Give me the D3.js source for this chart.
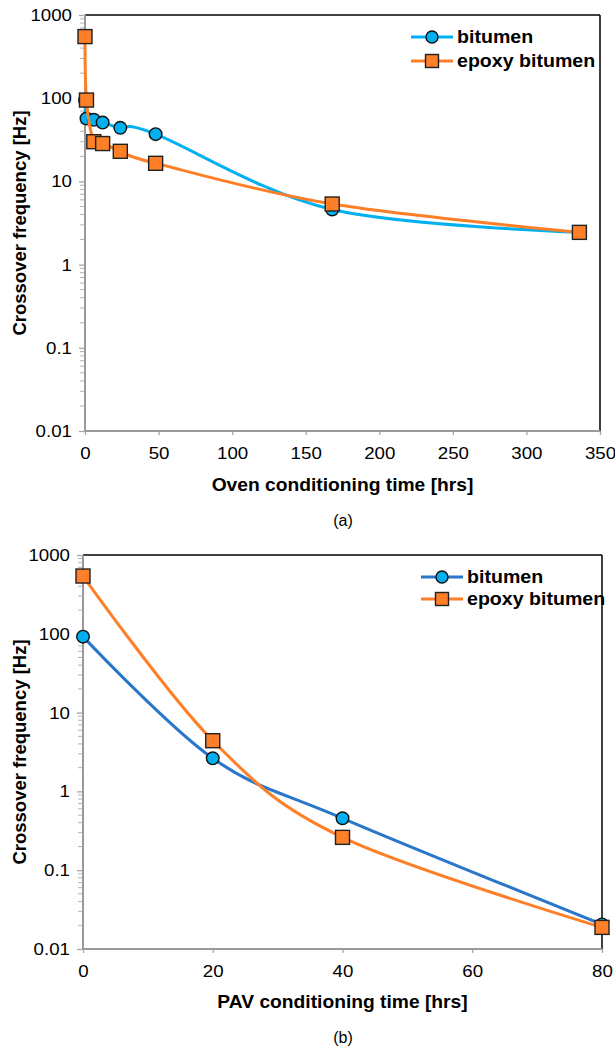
<!DOCTYPE html>
<html><head><meta charset="utf-8">
<script src="https://cdn.jsdelivr.net/npm/d3@7"></script>
<style>
body{margin:0;background:#fff;}
svg{display:block;}
text{font-family:"Liberation Sans",Arial,sans-serif;}
</style></head>
<body><svg id="c" width="615" height="1049"></svg>
<script>
// ---- data ----
const seriesNames = ["bitumen", "epoxy bitumen"];
const ovenTimes_bitumen = [0, 1, 6, 12, 24, 48, 168, 336];
const ovenFreq_bitumen = [95, 57, 55, 51, 44, 37, 4.6, 2.45];
const ovenTimes_epoxy = [0, 1, 6, 12, 24, 48, 168, 336];
const ovenFreq_epoxy = [550, 95, 30, 28.5, 23, 16.5, 5.35, 2.44];
const pavTimes = [0, 20, 40, 80];
const pavFreq_bitumen = [92, 2.63, 0.456, 0.0205];
const pavFreq_epoxy = [541, 4.4, 0.261, 0.0188];
const yTicks = [0.01, 0.1, 1, 10, 100, 1000];
const yTickLabels = ["0.01", "0.1", "1", "10", "100", "1000"];
const ovenXTicks = [0, 50, 100, 150, 200, 250, 300, 350];
const pavXTicks = [0, 20, 40, 60, 80];

const svg = d3.select("#c");
const ORANGE = "#fd7f28", ORANGE_FILL = "#fd7f28";
const LIGHTBLUE = "#00b0f0";
const SX = 1.1; // horizontal stretch of the reference's glyphs

function panel(cfg){
  const g = svg.append("g");
  const x = d3.scaleLinear().domain(cfg.xDomain).range([cfg.left, cfg.right]);
  const y = d3.scaleLog().domain([0.01, 1000]).range([cfg.bottom, cfg.top]);
  // minor ticks on y
  const minors = [];
  for (let e = -2; e < 3; e++) for (let m = 2; m <= 9; m++) minors.push(m * Math.pow(10, e));
  g.selectAll(".minor").data(minors).join("line")
    .attr("x1", cfg.left - 5).attr("x2", cfg.left)
    .attr("y1", d => y(d)).attr("y2", d => y(d))
    .attr("stroke", "#b4b4b4").attr("stroke-width", 1);
  // y axis (major ticks + labels)
  const yAxis = d3.axisLeft(y).tickValues(yTicks).tickFormat((d,i) => yTickLabels[i]).tickSize(6).tickPadding(7);
  const ya = g.append("g").attr("transform", `translate(${cfg.left},0)`).call(yAxis);
  ya.select(".domain").remove();
  ya.selectAll("line").attr("stroke", "#a6a6a6").attr("stroke-width", 1.3);
  ya.selectAll("text").attr("font-size", 17).attr("fill", "#000").attr("font-family", '"Liberation Sans",Arial,sans-serif')
    .attr("x", -13 / SX).attr("transform", `scale(${SX},1)`);
  // x axis
  const xAxis = d3.axisBottom(x).tickValues(cfg.xTicks).tickSize(4).tickPadding(12);
  const xa = g.append("g").attr("transform", `translate(0,${cfg.bottom})`).call(xAxis);
  xa.select(".domain").remove();
  xa.selectAll("line").attr("stroke", "#a6a6a6").attr("stroke-width", 1.3);
  xa.selectAll("text").attr("font-size", 17).attr("fill", "#000").attr("font-family", '"Liberation Sans",Arial,sans-serif')
    .attr("transform", `scale(${SX},1)`);
  // frame: top & right black, left & bottom gray
  g.append("line").attr("x1", cfg.left).attr("x2", cfg.right).attr("y1", cfg.top).attr("y2", cfg.top).attr("stroke", "#000").attr("stroke-width", 1.5);
  g.append("line").attr("x1", cfg.right).attr("x2", cfg.right).attr("y1", cfg.top).attr("y2", cfg.bottom).attr("stroke", "#000").attr("stroke-width", 1.5);
  g.append("line").attr("x1", cfg.left).attr("x2", cfg.left).attr("y1", cfg.top).attr("y2", cfg.bottom).attr("stroke", "#9a9a9a").attr("stroke-width", 2);
  g.append("line").attr("x1", cfg.left).attr("x2", cfg.right).attr("y1", cfg.bottom).attr("y2", cfg.bottom).attr("stroke", "#9a9a9a").attr("stroke-width", 2);

  const line = d3.line().x(d => x(d[0])).y(d => y(d[1])).curve(d3.curveCardinal.tension(0));
  // series
  cfg.series.forEach(s => {
    const pts = s.xs.map((v,i) => [v, s.ys[i]]);
    g.append("path").attr("d", line(pts)).attr("fill", "none").attr("stroke", s.color).attr("stroke-width", 3);
    if (s.shape === "circle") {
      g.selectAll(null).data(pts).join("circle").attr("cx", d => x(d[0])).attr("cy", d => y(d[1])).attr("r", 6.3)
        .attr("fill", LIGHTBLUE).attr("stroke", "#111").attr("stroke-width", 1.4);
    } else {
      g.selectAll(null).data(pts).join("rect").attr("x", d => x(d[0]) - 7).attr("y", d => y(d[1]) - 7).attr("width", 14).attr("height", 14)
        .attr("fill", ORANGE_FILL).attr("stroke", "#222").attr("stroke-width", 1.4);
    }
  });
  // legend
  cfg.series.forEach((s, i) => {
    const ly = cfg.legendY + i * cfg.legendGap;
    g.append("line").attr("x1", cfg.legendX).attr("x2", cfg.legendX + 42).attr("y1", ly).attr("y2", ly).attr("stroke", s.color).attr("stroke-width", 3);
    const cx = cfg.legendX + 21;
    if (s.shape === "circle") g.append("circle").attr("cx", cx).attr("cy", ly).attr("r", 6).attr("fill", LIGHTBLUE).attr("stroke", "#111").attr("stroke-width", 1.4);
    else g.append("rect").attr("x", cx - 6.5).attr("y", ly - 6.5).attr("width", 13).attr("height", 13).attr("fill", ORANGE_FILL).attr("stroke", "#222").attr("stroke-width", 1.4);
    g.append("text").attr("transform", `translate(${cfg.legendX + 46},${ly}) scale(1.12,1)`).attr("dy", "0.36em")
      .attr("font-size", 17.5).attr("font-weight", "bold").text(seriesNames[i]);
  });
  // axis titles
  g.append("text").attr("transform", `translate(${(cfg.left + cfg.right) / 2},${cfg.xTitleY}) scale(1.04,1)`).attr("text-anchor", "middle")
    .attr("font-size", 18.5).attr("font-weight", "bold").text(cfg.xTitle);
  g.append("text").attr("transform", `translate(${cfg.yTitleX},${(cfg.top + cfg.bottom) / 2}) rotate(-90)`).attr("text-anchor", "middle")
    .attr("font-size", 18.5).attr("font-weight", "bold").text("Crossover frequency [Hz]");
  g.append("text").attr("x", 343).attr("y", cfg.capY).attr("text-anchor", "middle").attr("font-family", '"Liberation Serif","Times New Roman",serif')
    .attr("font-size", 16).text(cfg.caption);
}

panel({left: 85, right: 600, top: 15, bottom: 431, xDomain: [0, 350], xTicks: ovenXTicks,
  xTitle: "Oven conditioning time [hrs]", xTitleY: 491, yTitleX: 26, capY: 526, caption: "(a)",
  legendX: 411, legendY: 37, legendGap: 24,
  series: [
    {xs: ovenTimes_bitumen, ys: ovenFreq_bitumen, color: LIGHTBLUE, shape: "circle"},
    {xs: ovenTimes_epoxy, ys: ovenFreq_epoxy, color: ORANGE, shape: "square"}
  ]});

panel({left: 83, right: 602, top: 555, bottom: 949, xDomain: [0, 80], xTicks: pavXTicks,
  xTitle: "PAV conditioning time [hrs]", xTitleY: 1008, yTitleX: 26, capY: 1043, caption: "(b)",
  legendX: 421, legendY: 577, legendGap: 22,
  series: [
    {xs: pavTimes, ys: pavFreq_bitumen, color: "#2a77c9", shape: "circle"},
    {xs: pavTimes, ys: pavFreq_epoxy, color: ORANGE, shape: "square"}
  ]});
</script></body></html>
